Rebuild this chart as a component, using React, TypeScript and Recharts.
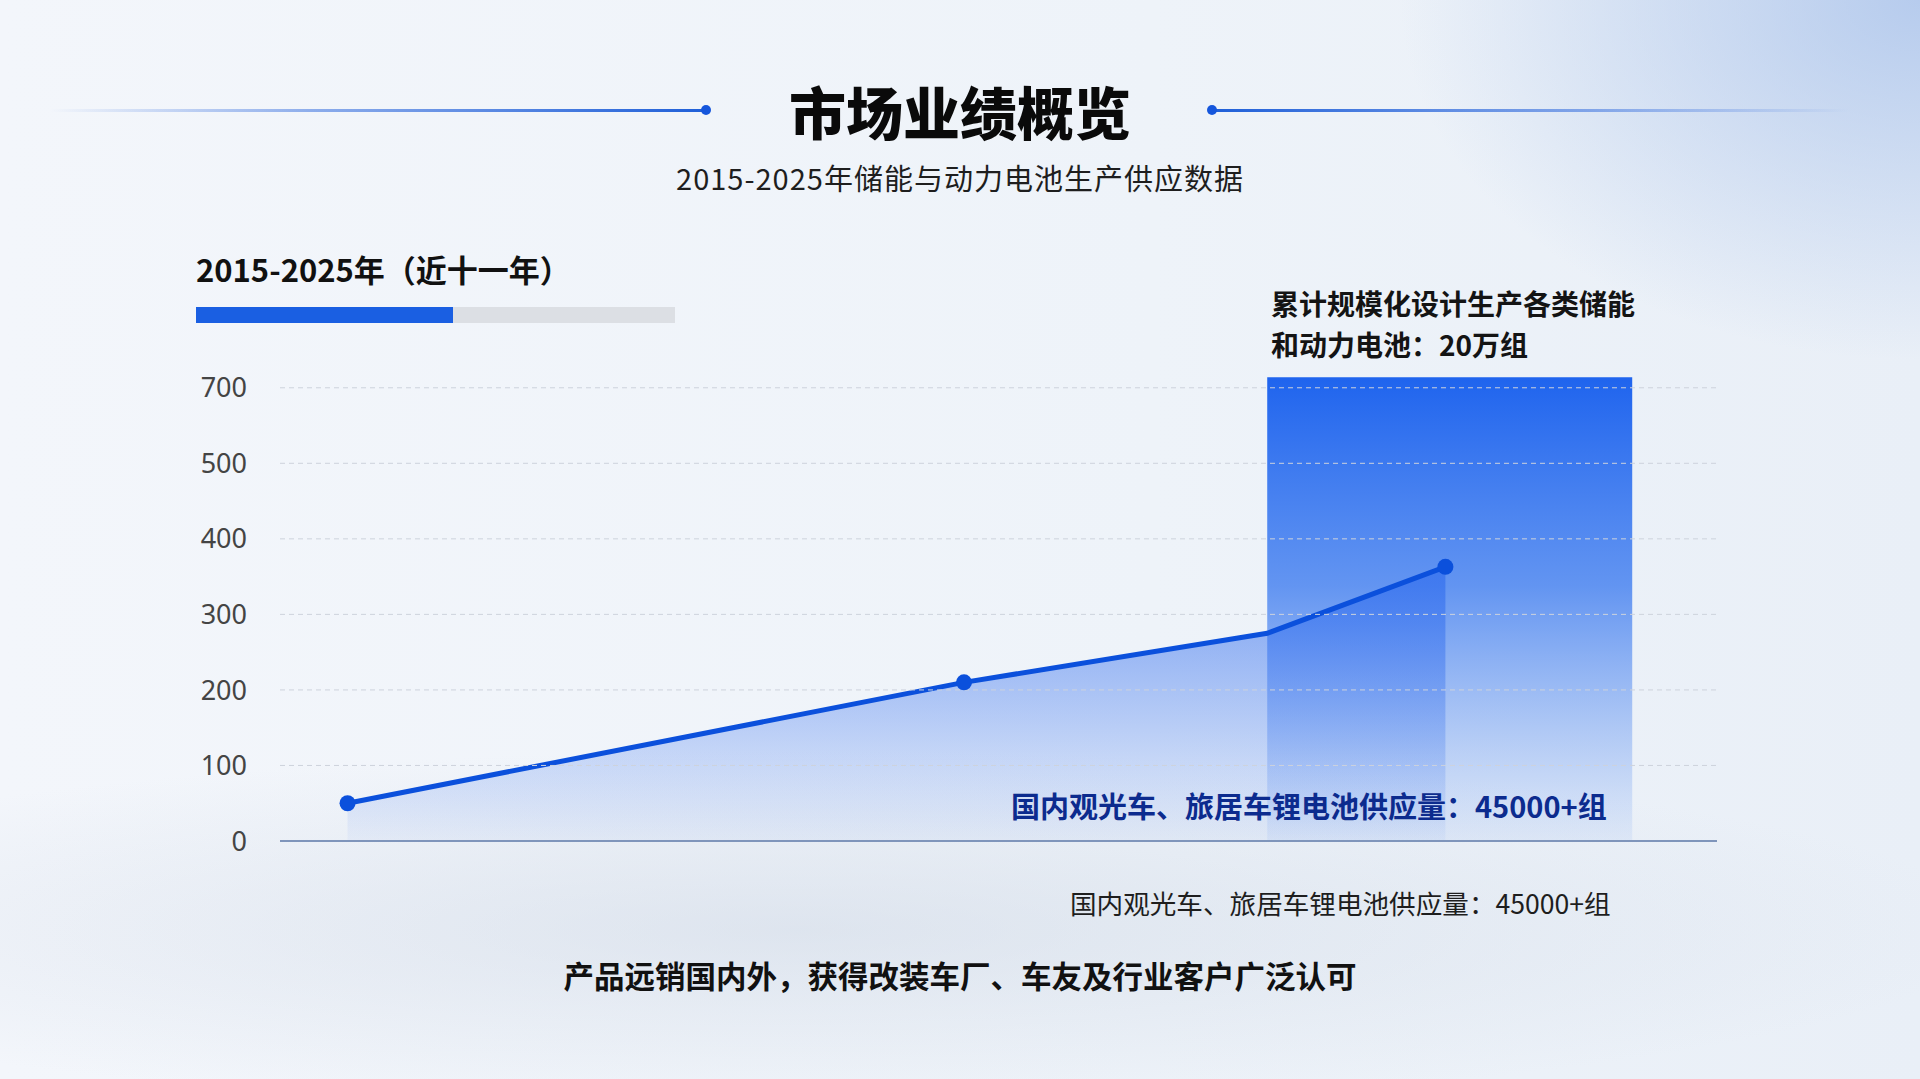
import {
  ComposedChart,
  Area,
  XAxis,
  YAxis,
  ReferenceArea,
  ReferenceLine,
} from "recharts";

// positions along the hidden x scale (0-100) and supply values
const pointPos = [4.7, 47.6, 68.7, 81.1];
const supplyValues = [50, 210, 275, 363];
const showMarker = [true, true, false, true];

// cumulative batteries block
const barSpan = [68.7, 94.1];
const barTop = 614;

const yTicks = [0, 100, 200, 300, 400, 500, 600];
const yTickLabels = ["0", "100", "200", "300", "400", "500", "700"];

const chartData = pointPos.map((x, i) => ({ x, value: supplyValues[i] }));

const CJK = '"Noto Sans CJK SC", "Noto Sans", sans-serif';
const BLUE = "#0b50dc";

const Marker = (props: any) => {
  const { cx, cy, index } = props;
  if (!showMarker[index]) return <g key={`m-${index}`} />;
  return <circle key={`m-${index}`} cx={cx} cy={cy} r={8} fill={BLUE} />;
};

export default function App() {
  return (
    <div
      style={{
        position: "absolute",
        left: 0,
        top: 0,
        width: 1920,
        height: 1079,
        overflow: "hidden",
        fontFamily: CJK,
        background:
          "radial-gradient(ellipse 520px 360px at 1920px 0px, rgba(170,195,235,0.8), rgba(170,195,235,0) 100%)," +
          "radial-gradient(ellipse 1200px 180px at 800px 930px, rgba(200,210,225,0.45), rgba(200,210,225,0) 100%)," +
          "linear-gradient(90deg, #f3f6fb 0%, #eef3f9 60%, #e9eff7 100%)",
      }}
    >
      {/* title lines */}
      <div
        style={{
          position: "absolute",
          left: 50,
          top: 109,
          width: 656,
          height: 3,
          background: "linear-gradient(90deg, rgba(40,100,220,0) 0%, rgba(40,100,220,0.5) 40%, #1f5fd8 100%)",
        }}
      />
      <div style={{ position: "absolute", left: 701, top: 105, width: 10, height: 10, borderRadius: 5, background: "#1556dc" }} />
      <div
        style={{
          position: "absolute",
          left: 1211,
          top: 109,
          width: 638,
          height: 3,
          background: "linear-gradient(270deg, rgba(40,100,220,0) 0%, rgba(40,100,220,0.5) 40%, #1f5fd8 100%)",
        }}
      />
      <div style={{ position: "absolute", left: 1207, top: 105, width: 10, height: 10, borderRadius: 5, background: "#1556dc" }} />

      <div
        style={{
          position: "absolute",
          left: 0,
          width: 1920,
          top: 79,
          textAlign: "center",
          fontSize: 57,
          lineHeight: "62px",
          fontWeight: 900,
          color: "#0a0a0a",
        }}
      >
        市场业绩概览
      </div>
      <div
        style={{
          position: "absolute",
          left: 0,
          width: 1920,
          top: 160,
          textAlign: "center",
          fontSize: 29,
          letterSpacing: 1,
          lineHeight: "34px",
          color: "#1e1e1e",
        }}
      >
        2015-2025年储能与动力电池生产供应数据
      </div>

      <div
        style={{
          position: "absolute",
          left: 196,
          top: 252,
          fontSize: 31,
          lineHeight: "34px",
          fontWeight: 700,
          color: "#111",
        }}
      >
        2015-2025年（近十一年）
      </div>
      <div style={{ position: "absolute", left: 196, top: 307, width: 479, height: 16, background: "#dcdfe4" }} />
      <div style={{ position: "absolute", left: 196, top: 307, width: 257, height: 16, background: "#1a5fe2" }} />

      <div
        style={{
          position: "absolute",
          left: 1271,
          top: 283,
          fontSize: 28,
          lineHeight: "41px",
          fontWeight: 600,
          color: "#141414",
        }}
      >
        累计规模化设计生产各类储能
        <br />
        和动力电池：<span style={{ fontWeight: 700 }}>20万组</span>
      </div>

      <div style={{ position: "absolute", left: 0, top: 0 }}>
        <ComposedChart
          width={1920}
          height={1079}
          data={chartData}
          margin={{ top: 350, right: 203, bottom: 238, left: 220 }}
        >
          <defs>
            <linearGradient id="barFill" x1="0" y1="0" x2="0" y2="1">
              <stop offset="0%" stopColor="#1f64ee" stopOpacity={1} />
              <stop offset="45%" stopColor="#4a84f0" stopOpacity={0.85} />
              <stop offset="100%" stopColor="#6e9cf2" stopOpacity={0.1} />
            </linearGradient>
            <linearGradient id="areaFill" x1="0" y1="0" x2="0" y2="1">
              <stop offset="0%" stopColor="#2a68ee" stopOpacity={0.6} />
              <stop offset="100%" stopColor="#2a68ee" stopOpacity={0.04} />
            </linearGradient>
          </defs>
          <XAxis type="number" dataKey="x" domain={[0, 100]} hide />
          <YAxis
            type="number"
            domain={[0, 650]}
            ticks={yTicks}
            width={60}
            axisLine={false}
            tickLine={false}
            tickSize={0}
            tickMargin={33}
            tickFormatter={(v: number) => yTickLabels[yTicks.indexOf(v)] ?? String(v)}
            tick={{ fill: "#444", fontSize: 27, fontFamily: '"Noto Sans", sans-serif' }}
          />
          {yTicks.slice(1).map((t) => (
            <ReferenceLine key={t} y={t} stroke="#cdd3dc" strokeDasharray="5 4" />
          ))}
          <ReferenceArea
            x1={barSpan[0]}
            x2={barSpan[1]}
            y1={0}
            y2={barTop}
            fill="url(#barFill)"
            fillOpacity={1}
            stroke="none"
            ifOverflow="visible"
          />
          <Area
            type="linear"
            dataKey="value"
            stroke={BLUE}
            strokeWidth={5}
            fill="url(#areaFill)"
            fillOpacity={1}
            dot={Marker}
            activeDot={false}
            isAnimationActive={false}
          />
          <ReferenceLine y={0} stroke="#7f95bb" strokeWidth={2} />
        </ComposedChart>
      </div>

      <div
        style={{
          position: "absolute",
          left: 1011,
          top: 787,
          fontSize: 29,
          lineHeight: "36px",
          fontWeight: 700,
          color: "#0c2b8e",
          whiteSpace: "nowrap",
        }}
      >
        国内观光车、旅居车锂电池供应量：45000+组
      </div>

      <div
        style={{
          position: "absolute",
          left: 1070,
          top: 887,
          fontSize: 26.6,
          lineHeight: "32px",
          color: "#1e1e1e",
          whiteSpace: "nowrap",
        }}
      >
        国内观光车、旅居车锂电池供应量：45000+组
      </div>

      <div
        style={{
          position: "absolute",
          left: 0,
          width: 1920,
          top: 957,
          textAlign: "center",
          fontSize: 30.5,
          lineHeight: "36px",
          fontWeight: 600,
          color: "#111",
        }}
      >
        产品远销国内外，获得改装车厂、车友及行业客户广泛认可
      </div>
    </div>
  );
}
